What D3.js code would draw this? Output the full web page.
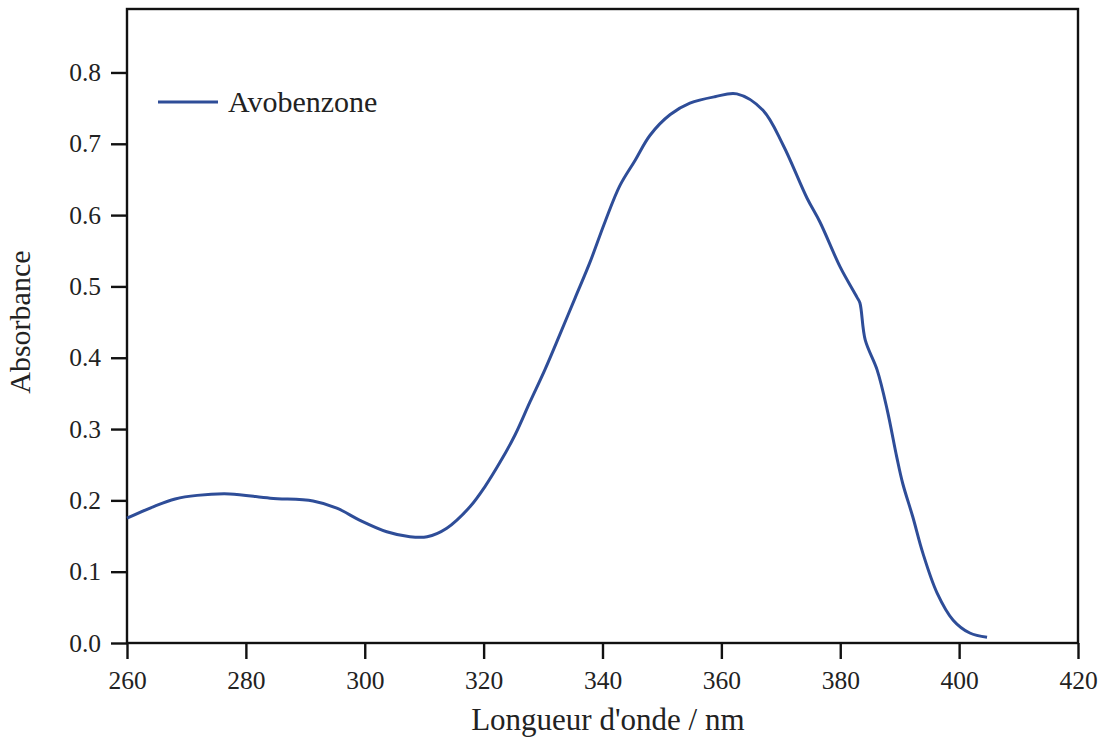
<!DOCTYPE html>
<html>
<head>
<meta charset="utf-8">
<script src="https://cdn.jsdelivr.net/npm/d3@7"></script>
<style>
  body { margin: 0; background: #fff; }
  text { font-family: "Liberation Serif", "DejaVu Serif", serif; fill: #222; }
</style>
</head>
<body>
<div id="chart"></div>
<script>
  // wavelength (nm) and absorbance
  var wavelength = [260, 264.4, 268.1, 271.8, 277.3, 284.1, 291.3, 295.3, 299.2, 303.7,
    307.6, 310.5, 313.8, 317.7, 320.2, 322.8, 325.3, 327.8, 330.3, 332.8,
    335.4, 337.9, 340.4, 342.9, 345.5, 348.0, 351.4, 354.7, 358.9, 362.6,
    367.0, 370.4, 374.4, 376.6, 380.0, 382.8, 383.3, 384.2, 386.2, 387.9,
    389.5, 390.5, 392.2, 393.9, 396.3, 399.0, 401.8, 404.7];
  var absorbance = [0.175, 0.191, 0.202, 0.207, 0.209, 0.203, 0.199, 0.189, 0.172, 0.156,
    0.149, 0.149, 0.161, 0.191, 0.219, 0.254, 0.292, 0.338, 0.383, 0.432,
    0.484, 0.534, 0.590, 0.641, 0.677, 0.712, 0.741, 0.757, 0.766, 0.770,
    0.747, 0.698, 0.624, 0.590, 0.527, 0.485, 0.477, 0.425, 0.383, 0.327,
    0.261, 0.224, 0.177, 0.126, 0.070, 0.032, 0.014, 0.008];
  var xTicks = [260, 280, 300, 320, 340, 360, 380, 400, 420];
  var yTicks = [0.0, 0.1, 0.2, 0.3, 0.4, 0.5, 0.6, 0.7, 0.8];
  var seriesName = "Avobenzone";

  var margin = {top: 9, right: 23, bottom: 101, left: 127},
    width = 1101 - margin.left - margin.right,
    height = 744 - margin.top - margin.bottom;

  var svg = d3.select("#chart")
    .append("svg")
    .attr("width", 1101)
    .attr("height", 744)
    .append("g")
    .attr("transform", "translate(" + margin.left + "," + margin.top + ")");

  var x = d3.scaleLinear().domain([260, 420]).range([0, width]);
  var y = d3.scaleLinear().domain([0, 0.889]).range([height, 0]);

  var data = wavelength.map(function(d, i) { return {x: d, y: absorbance[i]}; });

  // frame
  svg.append("rect")
    .attr("width", width)
    .attr("height", height)
    .style("fill", "none")
    .style("stroke", "#111")
    .style("stroke-width", 2.4);

  // axes
  var xAxis = svg.append("g")
    .attr("transform", "translate(0," + height + ")")
    .call(d3.axisBottom(x).tickValues(xTicks).tickSize(16).tickPadding(12).tickFormat(d3.format("d")));
  var yAxis = svg.append("g")
    .call(d3.axisLeft(y).tickValues(yTicks).tickSize(16).tickPadding(10).tickFormat(d3.format(".1f")));

  [xAxis, yAxis].forEach(function(a) {
    a.select(".domain").remove();
    a.selectAll(".tick line").style("stroke", "#111").style("stroke-width", 2.4);
    a.selectAll(".tick text").style("font-size", "25.5px").style("font-family", "Liberation Serif").style("fill", "#222");
  });

  // spectrum
  var line = d3.line()
    .x(function(d) { return x(d.x); })
    .y(function(d) { return y(d.y); })
    .curve(d3.curveCatmullRom.alpha(0.5));

  svg.append("path")
    .datum(data)
    .attr("d", line)
    .style("fill", "none")
    .style("stroke", "#2e4d98")
    .style("stroke-width", 3);

  // legend
  svg.append("line")
    .attr("x1", 31).attr("x2", 91)
    .attr("y1", 93).attr("y2", 93)
    .style("stroke", "#2e4d98")
    .style("stroke-width", 3);
  svg.append("text")
    .attr("x", 101)
    .attr("y", 103)
    .style("font-size", "30px")
    .text(seriesName);

  // axis titles
  svg.append("text")
    .attr("x", x(340.9))
    .attr("y", height + 87)
    .attr("text-anchor", "middle")
    .style("font-size", "31px")
    .text("Longueur d'onde / nm");

  svg.append("text")
    .attr("transform", "translate(-97," + y(0.45) + ") rotate(-90)")
    .attr("text-anchor", "middle")
    .style("font-size", "30px")
    .text("Absorbance");
</script>
</body>
</html>
